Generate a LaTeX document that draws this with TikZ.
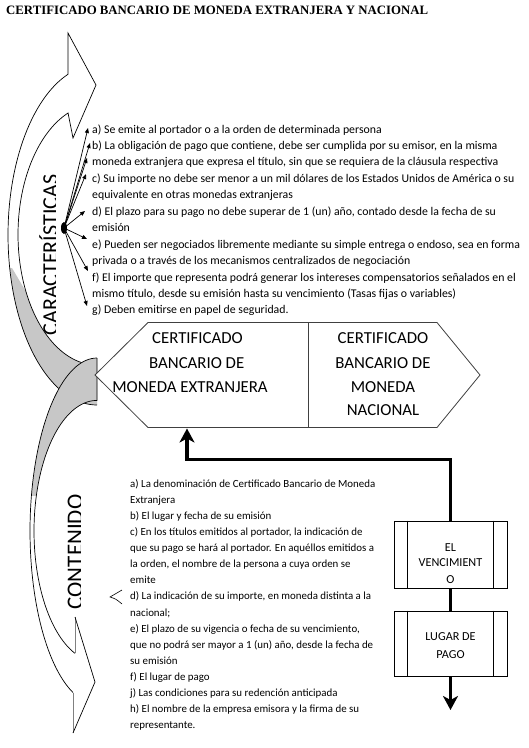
\documentclass[tikz,border=0pt]{standalone}
\usepackage{fontspec}
\setmainfont{Carlito}
\newfontfamily\titlefont{Liberation Serif}
\usetikzlibrary{arrows.meta}
\definecolor{bandgray}{gray}{0.78}
\begin{document}
\begin{tikzpicture}[x=1pt,y=-1pt,line join=miter]
\tikzset{
 lst/.style={anchor=base west, inner sep=0pt, font=\fontsize{11.8}{14}\selectfont},
 lstb/.style={anchor=base west, inner sep=0pt, font=\fontsize{10.9}{12}\selectfont},
 hextxt/.style={anchor=base, inner sep=0pt, font=\fontsize{16.8}{20}\selectfont},
 boxtxt/.style={anchor=base, inner sep=0pt, font=\fontsize{12.2}{14}\selectfont},
 vlabel/.style={rotate=90, anchor=base, inner sep=0pt},
 fan/.style={line width=0.7pt, -{Triangle[length=5pt,width=4pt]}},
 heavy/.style={line width=3.5pt},
 pbox/.style={draw, line width=0.8pt, minimum width=113pt, inner sep=0pt},
 thinline/.style={line width=0.7pt},
}
\useasboundingbox (0,0) rectangle (529,748);
\fill[white] (0,0) rectangle (529,748);

% title
\node[anchor=base west, inner sep=0pt, font=\titlefont\bfseries\fontsize{12.8}{14}\selectfont] (title) at (6,14.5) {CERTIFICADO BANCARIO DE MONEDA EXTRANJERA Y NACIONAL};

% ---------- upper curved arrow (CARACTERISTICAS)
\def\caraO{plot[domain=270:109,samples=70] ({97+89*cos(\x)},{235-170*sin(\x)})}
\def\caraIj{-- plot[domain=111.5:270,samples=70] ({97+79*cos(\x)},{234.5-130.6*sin(\x)})}
\fill[white] \caraO -- (68,33) -- (96,85) -- (73,138) \caraIj -- cycle;
\begin{scope}
\clip (0,268) -- (12,268) -- (38,312) -- (130,330) -- (130,430) -- (0,430) -- cycle;
\fill[bandgray] \caraO -- (68,33) -- (96,85) -- (73,138) \caraIj -- cycle;
\end{scope}
\draw[thinline] \caraO -- (68,33) -- (96,85) -- (73,138) \caraIj;

% ---------- lower curved arrow (CONTENIDO)
\def\contU{plot[domain=90:249,samples=70] ({97+67*cos(\x)},{531-173*sin(\x)})}
\def\contL{plot[domain=249.6:90,samples=70] ({97+63*cos(\x)},{531-130.6*sin(\x)})}
\def\contLj{-- plot[domain=249.6:90,samples=70] ({97+63*cos(\x)},{531-130.6*sin(\x)})}
\fill[white] \contU -- (73,733) -- (95,682) -- (75,617) -- (75,653.3) \contLj -- cycle;
\begin{scope}
\clip (0,340) rectangle (130,495);
\fill[bandgray] \contU -- (73,733) -- (95,682) -- (75,617) -- (75,653.3) \contLj -- cycle;
\end{scope}
\draw[thinline] \contU;
\draw[thinline] \contL -- (97,358);
\draw[thinline, gray] (73,692.5) -- (73,733);
\draw[thinline, gray] (75,617) -- (75,653.3);
\draw[thinline] (73,733) -- (95,682) -- (75,617);

% ---------- vertical labels
\begin{scope}
\clip (0,0) rectangle (55.6,748);
\node[vlabel, font=\fontsize{22}{24}\selectfont] (carlabel) at (57.5,255) {CARACTERÍSTICAS};
\end{scope}
\begin{scope}
\clip (0,0) rectangle (80.6,748);
\node[vlabel, font=\fontsize{23}{25}\selectfont] (contlabel) at (82.5,552) {CONTENIDO};
\end{scope}

% ---------- characteristics list
\foreach \txt [count=\i] in {
 {a) Se emite al portador o a la orden de determinada persona},
 {b) La obligación de pago que contiene, debe ser cumplida por su emisor, en la misma},
 {moneda extranjera que expresa el título, sin que se requiera de la cláusula respectiva},
 {c) Su importe no debe ser menor a un mil dólares de los Estados Unidos de América o su},
 {equivalente en otras monedas extranjeras},
 {d) El plazo para su pago no debe superar de 1 (un) año, contado desde la fecha de su},
 {emisión},
 {e) Pueden ser negociados libremente mediante su simple entrega o endoso, sea en forma},
 {privada o a través de los mecanismos centralizados de negociación},
 {f) El importe que representa podrá generar los intereses compensatorios señalados en el},
 {mismo título, desde su emisión hasta su vencimiento (Tasas fijas o variables)},
 {g) Deben emitirse en papel de seguridad.}}
 { \node[lst] (car\i) at (92,{133+(\i-1)*16.45}) {\txt}; }

% fan of arrows
\coordinate (src) at (64,228);
\foreach \xx/\yy [count=\i] in {88/128, 90/143, 87/158, 86/174, 85/211, 87/239, 88/271, 87/306}
 { \coordinate (ft\i) at (\xx,\yy); \draw[fan] (src) -- (ft\i); }
\fill (src) ellipse [x radius=3pt, y radius=6pt];

% ---------- central hexagon
\coordinate (hL) at (95,375);
\coordinate (hTL) at (148,322.5);
\coordinate (hTR) at (437,322.5);
\coordinate (hR) at (480,375);
\coordinate (hBR) at (437,427.5);
\coordinate (hBL) at (148,427.5);
\coordinate (dT) at (308,322.5);
\coordinate (dB) at (308,427.5);
\filldraw[fill=white, draw=black!75, line width=0.8pt] (hL) -- (hTL) -- (hTR) -- (hR) -- (hBR) -- (hBL) -- cycle;
\draw[black!75, line width=0.8pt] (dT) -- (dB);
\node[hextxt] (l1) at (197.5,343.7) {CERTIFICADO};
\node[hextxt] (l2) at (196.7,368.7) {BANCARIO DE};
\node[hextxt] (l3) at (190,392) {MONEDA EXTRANJERA};
\node[hextxt] (r1) at (383,343.7) {CERTIFICADO};
\node[hextxt] (r2) at (383,368.7) {BANCARIO DE};
\node[hextxt] (r3) at (383,392) {MONEDA};
\node[hextxt] (r4) at (383,415.4) {NACIONAL};

% ---------- content list
\foreach \txt [count=\i] in {
 {a) La denominación de Certificado Bancario de Moneda},
 {Extranjera},
 {b) El lugar y fecha de su emisión},
 {c) En los títulos emitidos al portador, la indicación de},
 {que su pago se hará al portador. En aquéllos emitidos a},
 {la orden, el nombre de la persona a cuya orden se},
 {emite},
 {d) La indicación de su importe, en moneda distinta a la},
 {nacional;},
 {e) El plazo de su vigencia o fecha de su vencimiento,},
 {que no podrá ser mayor a 1 (un) año, desde la fecha de},
 {su emisión},
 {f) El lugar de pago},
 {j) Las condiciones para su redención anticipada},
 {h) El nombre de la empresa emisora y la firma de su},
 {representante.}}
 { \node[lstb] (con\i) at (130,{487.5+(\i-1)*16.07}) {\txt}; }

% small bracket
\draw[line width=0.6pt] (122,590) .. controls (116,594) .. (110,597) .. controls (116,599) .. (122,604);

% ---------- boxes on the right
\node[pbox, minimum height=67pt] (box1) at (450.5,554.5) {};
\node[pbox, minimum height=65pt] (box2) at (450.5,643.5) {};
\foreach \b in {box1,box2} {
 \draw[line width=0.8pt] ([xshift=14pt]\b.north west) -- ([xshift=14pt]\b.south west);
 \draw[line width=0.8pt] ([xshift=-14pt]\b.north east) -- ([xshift=-14pt]\b.south east);
}
\node[boxtxt] (v1) at (450.5,551.2) {EL};
\node[boxtxt] (v2) at (450.5,566.8) {VENCIMIENT};
\node[boxtxt] (v3) at (450.5,583.2) {O};
\node[boxtxt] (p1) at (450.5,640.5) {LUGAR DE};
\node[boxtxt] (p2) at (450.5,658.3) {PAGO};

% ---------- heavy connectors
\coordinate (hexbot) at (187,428.5);
\coordinate (endpt) at (450.5,710);
\draw[heavy, -{Stealth[length=14pt,width=15pt,inset=4pt]}] (box1.north) -- ++(0,-61) -| (hexbot);
\draw[heavy] (box1.south) -- (box2.north);
\draw[heavy, -{Stealth[length=14pt,width=15pt,inset=4pt]}] (box2.south) -- (endpt);
\end{tikzpicture}
\end{document}
